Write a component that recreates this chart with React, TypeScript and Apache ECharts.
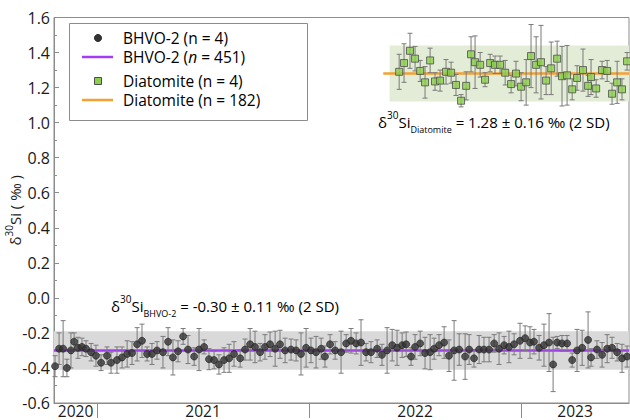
import React, { useEffect, useRef } from 'react';
import * as echarts from 'echarts';

// ---------- DATA ----------
const bhvoYear = [
  2020.802, 2020.821, 2020.840, 2020.858, 2020.877, 2020.892, 2020.910, 2020.929, 2020.948, 2020.972, 2020.995,
  2021.019, 2021.047, 2021.066, 2021.094, 2021.118, 2021.142, 2021.165, 2021.189, 2021.212, 2021.236, 2021.259, 2021.283, 2021.311, 2021.335,
  2021.358, 2021.382, 2021.406, 2021.429, 2021.458, 2021.481, 2021.505, 2021.528, 2021.552, 2021.575,
  2021.599, 2021.623, 2021.646, 2021.675, 2021.698, 2021.722, 2021.745, 2021.769, 2021.792, 2021.816,
  2021.840, 2021.863, 2021.887,
  2021.915, 2021.939, 2021.962, 2021.986, 2022.009, 2022.033, 2022.057, 2022.075, 2022.099, 2022.123,
  2022.151, 2022.175, 2022.198, 2022.222, 2022.245, 2022.269, 2022.292, 2022.321, 2022.344, 2022.368, 2022.392, 2022.415,
  2022.439, 2022.458, 2022.481, 2022.500, 2022.524, 2022.547, 2022.571, 2022.590, 2022.613, 2022.637,
  2022.660, 2022.684, 2022.708, 2022.736, 2022.755, 2022.778, 2022.802, 2022.825, 2022.849, 2022.873,
  2022.896, 2022.920, 2022.943, 2022.967,
  2022.995, 2023.019, 2023.042, 2023.061, 2023.085, 2023.108, 2023.132, 2023.151, 2023.170, 2023.193,
  2023.217, 2023.241, 2023.264, 2023.288, 2023.316, 2023.330, 2023.358, 2023.382, 2023.406, 2023.429,
  2023.453, 2023.476, 2023.500,
];
const bhvoValue = [
  -0.39, -0.29, -0.29, -0.40, -0.30, -0.25, -0.285, -0.28, -0.29, -0.31, -0.33, -0.37, -0.33, -0.37, -0.355,
  -0.34, -0.32, -0.315, -0.265, -0.245, -0.32, -0.32, -0.30, -0.31, -0.25,
  -0.34, -0.305, -0.22, -0.295, -0.335, -0.295, -0.28, -0.35, -0.355, -0.38, -0.355, -0.345, -0.32, -0.345, -0.295,
  -0.265, -0.28, -0.31, -0.28, -0.265, -0.29, -0.265, -0.30,
  -0.295, -0.30, -0.32, -0.285, -0.30, -0.31, -0.29, -0.335, -0.265, -0.30, -0.31, -0.26, -0.245, -0.26, -0.255,
  -0.31, -0.31, -0.29, -0.325, -0.30, -0.27, -0.285,
  -0.27, -0.265, -0.335, -0.28, -0.26, -0.315, -0.31, -0.29, -0.27, -0.255, -0.33, -0.30, -0.295, -0.335, -0.295,
  -0.345, -0.295, -0.295, -0.295, -0.26, -0.29, -0.27, -0.28, -0.265,
  -0.245, -0.23, -0.255, -0.25, -0.285, -0.27, -0.255, -0.38, -0.255, -0.26, -0.26, -0.355, -0.30, -0.285, -0.24,
  -0.34, -0.295, -0.325, -0.29, -0.285, -0.31, -0.345, -0.335,
];
const bhvoErr = [
  0.06, 0.09, 0.16, 0.05, 0.10, 0.05, 0.06, 0.05, 0.045, 0.05, 0.06, 0.045, 0.05, 0.06, 0.075,
  0.06, 0.075, 0.065, 0.095, 0.095, 0.04, 0.06, 0.05, 0.09, 0.08,
  0.10, 0.06, 0.045, 0.08, 0.05, 0.12, 0.04, 0.06, 0.05, 0.055, 0.07, 0.08, 0.07, 0.05, 0.06,
  0.09, 0.09, 0.05, 0.07, 0.07, 0.10, 0.08, 0.07,
  0.06, 0.06, 0.12, 0.11, 0.07, 0.09, 0.06, 0.06, 0.055, 0.05, 0.12, 0.05, 0.07, 0.06, 0.13,
  0.05, 0.06, 0.05, 0.06, 0.13, 0.09, 0.10,
  0.07, 0.07, 0.05, 0.07, 0.07, 0.09, 0.10, 0.06, 0.06, 0.09, 0.09, 0.17, 0.09, 0.13, 0.085,
  0.05, 0.08, 0.07, 0.07, 0.05, 0.09, 0.05, 0.09, 0.06,
  0.10, 0.07, 0.09, 0.07, 0.07, 0.12, 0.165, 0.155, 0.035, 0.045, 0.045, 0.04, 0.12, 0.10, 0.16,
  0.05, 0.05, 0.07, 0.08, 0.06, 0.05, 0.08, 0.06,
];

const diaYear = [
  2022.425, 2022.448, 2022.476, 2022.500, 2022.524, 2022.547, 2022.571, 2022.594,
  2022.618, 2022.646, 2022.670, 2022.693, 2022.717, 2022.741, 2022.764, 2022.783,
  2022.807, 2022.830, 2022.854, 2022.877, 2022.901, 2022.925, 2022.953, 2022.976,
  2023.000, 2023.024, 2023.047, 2023.071, 2023.094, 2023.118, 2023.142, 2023.170,
  2023.193, 2023.217, 2023.241, 2023.264, 2023.292, 2023.316, 2023.330, 2023.354,
  2023.382, 2023.406, 2023.429, 2023.453, 2023.476, 2023.500,
];
const diaValue = [
  1.29, 1.34, 1.41, 1.365, 1.295, 1.23, 1.355, 1.235, 1.24, 1.29,
  1.285, 1.215, 1.125, 1.21, 1.39, 1.345, 1.33, 1.245, 1.34, 1.33,
  1.33, 1.285, 1.22, 1.28, 1.205, 1.23, 1.38, 1.33, 1.345, 1.24,
  1.31, 1.365, 1.265, 1.27, 1.19, 1.255, 1.30, 1.21, 1.26, 1.195,
  1.30, 1.295, 1.165, 1.23, 1.19, 1.35,
];
const diaErr = [
  0.10, 0.11, 0.10, 0.07, 0.06, 0.09, 0.07, 0.05, 0.06, 0.07,
  0.06, 0.06, 0.035, 0.08, 0.10, 0.15, 0.07, 0.04, 0.05, 0.05,
  0.05, 0.07, 0.05, 0.07, 0.08, 0.13, 0.18, 0.16, 0.21, 0.08,
  0.15, 0.10, 0.17, 0.17, 0.06, 0.07, 0.12, 0.06, 0.10, 0.05,
  0.05, 0.06, 0.06, 0.12, 0.06, 0.05,
];

// long-term means and 2SD
const bhvoMean = -0.30;
const bhvo2SD = 0.11;
const diaMean = 1.28;
const dia2SD = 0.16;
const diaLineStart = 2022.35;
const diaBandStart = 2022.38;

// axes
const xMin = 2020.797;
const xMax = 2023.509;
const yearBoundaries = [2021, 2022, 2023];
const yearLabels = ['2020', '2021', '2022', '2023'];
const yMin = -0.6;
const yMax = 1.6;
const yStep = 0.2;

const FONT = 'Open Sans';
const FS = 16;
const LEG_FS = 15.5;
const GRAY = '#8c8c8c';
const TXT = '#1a1a1a';
const PURPLE = '#a33cf2';
const ORANGE = '#f4a033';
const GREEN = '#8ccf4d';
const DOT = '#333333';

export default function App() {
  const ref = useRef<HTMLDivElement>(null);

  useEffect(() => {
    const chart = echarts.init(ref.current!, null, { renderer: 'svg' });

    const bhvoPts = bhvoYear.map((t, i) => [t, bhvoValue[i]]);
    const bhvoErrData = bhvoYear.map((t, i) => [t, bhvoValue[i], bhvoErr[i]]);
    const diaPts = diaYear.map((t, i) => [t, diaValue[i]]);
    const diaErrData = diaYear.map((t, i) => [t, diaValue[i], diaErr[i]]);

    const labelCenters = yearLabels.map((y) => {
      const yr = Number(y);
      return (Math.max(yr, xMin) + Math.min(yr + 1, xMax)) / 2;
    });

    const errRender = (params: any, api: any) => {
      const x = api.value(0);
      const y = api.value(1);
      const e = api.value(2);
      const top = api.coord([x, y + e]);
      const bot = api.coord([x, y - e]);
      const hw = 2.5;
      const st = { stroke: '#7a7a7a', lineWidth: 1 };
      return {
        type: 'group',
        children: [
          { type: 'line', shape: { x1: top[0], y1: top[1], x2: bot[0], y2: bot[1] }, style: st },
          { type: 'line', shape: { x1: top[0] - hw, y1: top[1], x2: top[0] + hw, y2: top[1] }, style: st },
          { type: 'line', shape: { x1: bot[0] - hw, y1: bot[1], x2: bot[0] + hw, y2: bot[1] }, style: st },
        ],
      };
    };

    const annRich = {
      m: { fontSize: 15, fontFamily: FONT, color: TXT, lineHeight: 24 },
      sup: { fontSize: 10, fontFamily: FONT, color: TXT, lineHeight: 14, verticalAlign: 'top' },
      sub: { fontSize: 9, fontFamily: FONT, color: TXT, lineHeight: 10, verticalAlign: 'bottom' },
    };
    const nameRich = {
      m: { fontSize: 15, fontFamily: FONT, color: TXT, lineHeight: 22 },
      sup: { fontSize: 10, fontFamily: FONT, color: TXT, lineHeight: 13, verticalAlign: 'top' },
    };

    const legendText = (x: number, y: number, text: string) => ({
      type: 'text',
      x,
      y,
      style: {
        text,
        rich: {
          a: { fontSize: LEG_FS, fontFamily: FONT, color: TXT, lineHeight: 17 },
          i: { fontSize: LEG_FS, fontFamily: FONT, fontStyle: 'italic', color: TXT, lineHeight: 17 },
        },
        verticalAlign: 'middle',
        align: 'left',
      },
      z: 100,
    });

    const option: any = {
      animation: false,
      backgroundColor: '#ffffff',
      textStyle: { fontFamily: FONT },
      grid: {
        left: 54,
        right: 1,
        top: 17.5,
        bottom: 17,
        containLabel: false,
        outerBoundsMode: 'none',
        show: true,
        borderColor: GRAY,
        borderWidth: 1,
        backgroundColor: 'transparent',
      },
      xAxis: {
        type: 'value',
        min: xMin,
        max: xMax,
        axisLine: { show: true, onZero: false, lineStyle: { color: GRAY, width: 1 } },
        axisTick: {
          show: true,
          customValues: yearBoundaries,
          length: 15,
          lineStyle: { color: GRAY, width: 1 },
        },
        axisLabel: {
          show: true,
          customValues: labelCenters,
          formatter: (v: number) => String(Math.floor(v + 1e-6)),
          fontSize: 15.5,
          fontFamily: FONT,
          color: TXT,
          margin: 0,
          lineHeight: 15,
        },
        splitLine: { show: false },
      },
      yAxis: {
        type: 'value',
        min: yMin,
        max: yMax,
        interval: yStep,
        axisLine: { show: true, lineStyle: { color: GRAY, width: 1 } },
        axisTick: { show: true, inside: true, length: 5, lineStyle: { color: GRAY } },
        minorTick: { show: true, splitNumber: 2, length: 3, lineStyle: { color: GRAY } },
        axisLabel: {
          fontSize: FS,
          fontFamily: FONT,
          color: TXT,
          margin: 4,
          formatter: (v: number) => v.toFixed(1),
        },
        splitLine: { show: false },
        name: '{m|δ}{sup|30}{m|Si ( ‰ )}',
        nameLocation: 'middle',
        nameGap: 28,
        nameMoveOverlap: false,
        nameRotate: 90,
        nameTextStyle: { rich: nameRich },
      },
      series: [
        {
          name: 'bhvoBand',
          type: 'line',
          data: [[xMin, bhvoMean], [xMax, bhvoMean]],
          symbol: 'none',
          lineStyle: { opacity: 0 },
          silent: true,
          z: 1,
          markArea: {
            silent: true,
            itemStyle: { color: '#d9d9d9' },
            data: [[{ xAxis: xMin, yAxis: bhvoMean - bhvo2SD }, { xAxis: xMax, yAxis: bhvoMean + bhvo2SD }]],
          },
        },
        {
          name: 'diaBand',
          type: 'line',
          data: [[diaBandStart, diaMean], [xMax, diaMean]],
          symbol: 'none',
          lineStyle: { opacity: 0 },
          silent: true,
          z: 1,
          markArea: {
            silent: true,
            itemStyle: { color: '#e3ecd6' },
            data: [[{ xAxis: diaBandStart, yAxis: diaMean - dia2SD }, { xAxis: xMax, yAxis: diaMean + dia2SD }]],
          },
        },
        {
          name: 'BHVO-2 (n = 451)',
          type: 'line',
          data: [[xMin, bhvoMean], [xMax, bhvoMean]],
          symbol: 'none',
          lineStyle: { color: PURPLE, width: 2.5 },
          z: 2,
        },
        {
          name: 'Diatomite (n = 182)',
          type: 'line',
          data: [[diaLineStart, diaMean], [xMax, diaMean]],
          symbol: 'none',
          lineStyle: { color: ORANGE, width: 2.5 },
          z: 2,
        },
        {
          name: 'bhvoErr',
          type: 'custom',
          renderItem: errRender,
          data: bhvoErrData,
          encode: { x: 0, y: 1 },
          z: 3,
        },
        {
          name: 'diaErr',
          type: 'custom',
          renderItem: errRender,
          data: diaErrData,
          encode: { x: 0, y: 1 },
          z: 3,
        },
        {
          name: 'BHVO-2 (n = 4)',
          type: 'scatter',
          data: bhvoPts,
          symbol: 'circle',
          symbolSize: 7,
          itemStyle: { color: DOT, borderColor: '#1f1f1f', borderWidth: 0.8 },
          z: 4,
        },
        {
          name: 'Diatomite (n = 4)',
          type: 'scatter',
          data: diaPts,
          symbol: 'rect',
          symbolSize: 7,
          itemStyle: { color: GREEN, borderColor: '#4d4d4d', borderWidth: 1 },
          z: 4,
        },
      ],
      graphic: [
        {
          type: 'rect',
          shape: { x: 69.5, y: 23.5, width: 238, height: 97 },
          style: { fill: '#ffffff', stroke: GRAY, lineWidth: 1 },
          z: 99,
        },
        { type: 'circle', shape: { cx: 98, cy: 38, r: 3.6 }, style: { fill: DOT, stroke: '#1f1f1f', lineWidth: 0.8 }, z: 100 },
        legendText(123, 38, '{a|BHVO-2 (n = 4)}'),
        { type: 'line', shape: { x1: 82, y1: 57, x2: 113, y2: 57 }, style: { stroke: PURPLE, lineWidth: 2.5 }, z: 100 },
        legendText(123, 57, '{a|BHVO-2 (}{i|n}{a| = 451)}'),
        { type: 'rect', shape: { x: 94.5, y: 77.5, width: 7, height: 7 }, style: { fill: GREEN, stroke: '#4d4d4d', lineWidth: 1 }, z: 100 },
        legendText(123, 81, '{a|Diatomite (n = 4)}'),
        { type: 'line', shape: { x1: 82, y1: 100, x2: 113, y2: 100 }, style: { stroke: ORANGE, lineWidth: 2.5 }, z: 100 },
        legendText(123, 100, '{a|Diatomite (n = 182)}'),
        {
          type: 'text',
          x: 378,
          y: 110,
          style: {
            text: '{m|δ}{sup|30}{m|Si}{sub|Diatomite}{m| = 1.28 ± 0.16 ‰ (2 SD)}',
            rich: annRich,
            align: 'left',
            verticalAlign: 'top',
          },
          z: 100,
        },
        {
          type: 'text',
          x: 111,
          y: 294,
          style: {
            text: '{m|δ}{sup|30}{m|Si}{sub|BHVO-2}{m| = -0.30 ± 0.11 ‰ (2 SD)}',
            rich: annRich,
            align: 'left',
            verticalAlign: 'top',
          },
          z: 100,
        },
      ],
    };

    chart.setOption(option);
    return () => chart.dispose();
  }, []);

  return (
    <div
      ref={ref}
      style={{ position: 'fixed', left: 0, top: 0, width: 630, height: 420, background: '#fff' }}
    />
  );
}
